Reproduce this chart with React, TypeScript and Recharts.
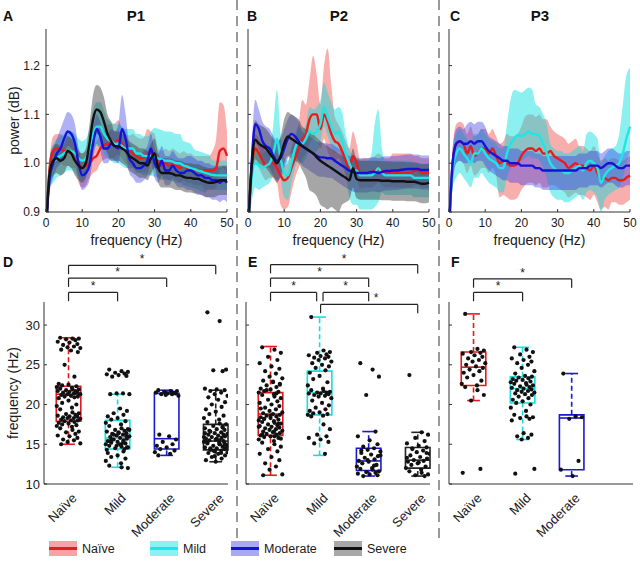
import {
  Area,
  ComposedChart,
  Line,
  ReferenceArea,
  ReferenceDot,
  ReferenceLine,
  Scatter,
  XAxis,
  YAxis,
} from "recharts";

// ---------- data ----------
const HZ = Array.from({ length: 51 }, (_, i) => i);
const FREQ_TICKS = [0, 10, 20, 30, 40, 50];
const POWER_TICKS = [0.9, 1.0, 1.1, 1.2];
const BOX_TICKS = [10, 15, 20, 25, 30];
const GROUPS = ["Naïve", "Mild", "Moderate", "Severe"];

// mean power per Hz, band widths above / below in hundredths
const P1_NAIVE = [0.86,0.99,1.025,1.03,1.03,1.025,1.025,1.02,1.02,1.0, 0.99,0.995,1.0,1.01,1.015,1.03,1.037,1.04,1.04,1.042, 1.048,1.04,1.03,1.027,1.02,1.014,1.01,1.012,1.02,1.015, 1.02,1.0,0.995,1.0,0.995,1.0,0.995,0.99,0.995,0.99, 0.99,0.985,0.985,0.985,0.985,0.985,0.985,0.99,1.025,1.03,1.015];
const P1_NAIVE_UP = [0,2,3,3,3,3,3,3,3,3, 3,3,3,3,3,3,3,4,4,4, 4,3,3,3,4,4,4,4,5,5, 4,3,3,3,3,3,3,3,3,3, 3,3,3,3,3,3,4,6,10,9,5];
const P1_NAIVE_DN = [0,2,3,3,3,3,3,3,3,4, 4,4,3,3,3,3,3,3,3,3, 3,3,3,3,3,3,3,3,4,4, 3,3,3,3,3,3,3,3,3,3, 3,3,3,3,4,4,4,4,4,4,4];
const P1_MILD = [0.86,0.98,1.0,1.01,1.015,1.02,1.025,1.025,1.02,1.01, 1.005,1.01,1.03,1.06,1.075,1.075,1.06,1.05,1.045,1.04, 1.04,1.035,1.03,1.03,1.03,1.02,1.02,1.015,1.015,1.015, 1.012,1.01,1.008,1.005,1.005,1.003,1.0,1.0,0.995,0.993, 0.99,0.988,0.985,0.983,0.98,0.978,0.976,0.975,0.975,0.975,0.975];
const P1_MILD_UP = [0,3,4,4,4,4,4,4,4,4, 4,4,4,5,5,5,5,4,4,4, 4,4,4,4,4,4,4,4,4,5, 6,6,6,6,6,6,6,6,5,5, 5,4,4,4,4,4,3,3,3,3,3];
const P1_MILD_DN = [0,3,4,4,4,4,4,4,4,4, 4,4,4,4,4,4,4,4,4,4, 4,4,4,4,4,4,4,4,4,4, 4,4,4,4,4,4,4,4,4,4, 4,4,4,4,4,3,3,3,3,3,3];
const P1_MOD = [0.86,0.97,1.0,1.02,1.03,1.05,1.065,1.06,1.04,1.0, 0.975,0.98,0.995,1.04,1.07,1.055,1.03,1.03,1.04,1.035, 1.03,1.07,1.05,1.01,1.0,0.99,0.99,0.995,1.005,1.03, 1.0,0.99,1.005,0.985,0.985,0.995,0.985,0.98,0.98,0.985, 0.985,0.98,0.975,0.975,0.97,0.97,0.965,0.965,0.96,0.965,0.96];
const P1_MOD_UP = [0,3,3,3,4,4,4,4,4,3, 3,3,3,3,3,3,3,3,3,3, 5,7,5,3,3,3,3,3,3,3, 3,3,3,3,3,3,3,3,3,3, 3,3,3,3,3,3,3,3,3,3,3];
const P1_MOD_DN = [0,3,3,3,3,3,3,3,3,3, 3,3,3,3,3,3,3,3,3,3, 3,3,3,3,3,3,3,3,3,3, 3,3,3,3,3,3,3,3,3,4, 4,4,4,4,4,4,4,4,4,4,4];
const P1_SEV = [0.86,0.98,1.005,1.01,1.005,1.01,1.025,1.02,1.005,0.995, 0.99,1.0,1.04,1.09,1.11,1.105,1.085,1.06,1.045,1.035, 1.035,1.03,1.025,1.015,1.01,1.005,1.0,1.0,0.995,1.01, 1.02,0.99,0.98,0.98,0.98,0.978,0.975,0.975,0.972,0.97, 0.97,0.968,0.968,0.965,0.962,0.96,0.96,0.962,0.965,0.965,0.965];
const P1_SEV_UP = [0,3,3,3,3,3,3,3,3,3, 3,3,4,5,5,5,5,4,4,3, 3,3,3,3,3,3,3,3,3,3, 3,3,3,3,3,3,3,3,3,3, 3,3,3,3,3,3,3,3,3,3,3];
const P1_SEV_DN = [0,3,3,3,3,3,3,3,3,3, 3,3,4,5,5,5,5,4,4,3, 3,3,3,3,3,3,3,3,3,3, 3,3,3,3,3,3,3,3,3,3, 3,3,3,3,3,3,3,3,3,3,3];

const P2_NAIVE = [0.86,0.99,1.03,1.02,1.005,0.995,1.0,1.0,0.99,0.975, 0.965,0.97,0.99,1.01,1.03,1.05,1.06,1.09,1.1,1.1, 1.07,1.1,1.085,1.06,1.045,1.04,1.025,1.005,0.99,1.015, 1.0,0.978,0.98,0.98,0.98,0.985,0.99,0.985,0.98,0.98, 0.98,0.98,0.98,0.98,0.98,0.98,0.985,0.985,0.98,0.98,0.98];
const P2_NAIVE_UP = [0,2,3,3,3,3,3,3,3,3, 3,3,4,4,5,8,6,8,12,8, 5,10,15,10,5,4,4,4,4,5, 4,3,3,3,3,3,3,3,3,3, 4,4,4,4,4,4,3,3,3,3,3];
const P2_NAIVE_DN = [0,2,3,3,3,3,3,3,3,6, 6,6,5,4,4,4,4,5,5,5, 4,5,6,5,4,3,3,3,3,3, 3,3,3,3,3,3,3,3,3,3, 3,3,3,3,3,3,3,3,3,3,3];
const P2_MILD = [0.86,0.97,1.0,0.995,0.99,0.995,1.0,1.02,1.05,1.01, 0.98,0.975,1.0,1.03,1.045,1.04,1.05,1.065,1.06,1.065, 1.08,1.115,1.095,1.075,1.06,1.065,1.045,1.02,1.0,0.985, 0.985,0.975,0.975,0.975,0.975,0.98,0.99,0.98,0.975,0.975, 0.975,0.975,0.975,0.975,0.975,0.975,0.97,0.97,0.97,0.97,0.97];
const P2_MILD_UP = [0,3,3,3,3,3,3,6,10,5, 3,3,3,3,3,3,3,5,5,5, 5,5,5,5,5,5,6,4,3,3, 3,3,3,3,4,10,12,5,3,3, 3,3,3,3,3,3,3,3,3,3,3];
const P2_MILD_DN = [0,5,5,5,4,4,4,4,4,4, 5,5,4,4,4,4,4,4,4,4, 4,4,4,4,4,4,4,4,7,7, 7,7,7,7,7,7,7,4,4,4, 4,4,4,4,4,4,4,4,4,4,4];
const P2_MOD = [0.86,1.0,1.08,1.07,1.045,1.035,1.03,1.015,1.005,1.01, 1.03,1.05,1.06,1.055,1.045,1.035,1.03,1.025,1.02,1.015, 1.012,1.012,1.01,1.01,1.005,1.0,0.995,0.99,0.985,0.982, 0.98,0.98,0.98,0.98,0.982,0.982,0.98,0.982,0.984,0.984, 0.985,0.985,0.986,0.987,0.988,0.988,0.988,0.988,0.986,0.986,0.986];
const P2_MOD_UP = [0,3,5,4,4,4,4,4,4,4, 4,4,4,4,4,3,3,3,3,3, 3,3,3,3,3,3,3,3,3,3, 3,3,3,3,3,3,3,3,3,3, 3,3,3,3,3,3,3,3,3,3,3];
const P2_MOD_DN = [0,4,4,4,4,4,4,4,4,4, 4,4,4,4,4,4,4,4,4,4, 4,4,4,4,4,4,4,4,4,4, 4,4,4,4,4,4,4,4,4,4, 4,4,4,4,4,4,4,4,4,4,4];
const P2_SEV = [0.86,0.99,1.048,1.04,1.035,1.03,1.02,1.01,1.0,1.015, 1.04,1.055,1.05,1.045,1.04,1.035,1.03,1.025,1.02,1.012, 1.005,1.0,0.995,0.99,0.985,0.98,0.975,0.97,0.965,0.99, 0.968,0.965,0.965,0.965,0.965,0.965,0.965,0.964,0.964,0.964, 0.963,0.963,0.963,0.963,0.962,0.962,0.962,0.96,0.958,0.958,0.96];
const P2_SEV_UP = [0,3,4,4,4,4,4,4,4,4, 5,5,5,5,5,4,4,4,4,4, 4,4,4,4,4,4,4,4,4,4, 4,4,4,4,4,4,4,4,4,4, 4,4,4,4,4,4,4,4,4,4,4];
const P2_SEV_DN = [0,3,4,4,4,4,4,4,4,4, 4,4,4,4,4,5,6,8,8,8, 9,9,9,8,8,8,6,5,4,4, 4,4,4,4,4,4,4,4,4,4, 4,4,4,4,4,4,4,4,4,4,4];

const P3_NAIVE = [0.86,1.0,1.04,1.045,1.04,1.02,1.035,1.015,1.02,1.03, 1.03,1.02,1.03,1.015,1.0,1.005,1.0,0.995,0.995,1.0, 1.015,1.025,1.03,1.03,1.025,1.03,1.02,1.02,1.025,1.015, 1.01,1.005,1.0,0.99,0.995,1.0,0.995,0.995,0.99,0.985, 0.995,0.98,0.965,0.97,0.965,0.97,0.97,0.965,0.965,0.97,0.975];
const P3_NAIVE_UP = [0,3,4,4,4,4,4,4,4,4, 4,4,4,4,4,4,6,6,6,6, 6,7,7,7,7,7,7,7,5,5, 5,5,5,5,5,5,4,4,4,4, 4,4,4,4,4,4,4,4,4,4,4];
const P3_NAIVE_DN = [0,3,4,4,4,4,4,4,4,4, 4,4,4,4,7,7,7,7,7,7, 7,7,7,7,7,7,7,7,7,6, 6,6,6,6,6,6,6,6,6,6, 6,6,6,6,6,5,5,5,5,5,5];
const P3_MILD = [0.86,0.99,1.02,1.03,1.02,1.01,1.0,1.02,1.02,1.03, 1.02,1.01,1.005,1.0,0.99,0.99,1.02,1.04,1.05,1.058, 1.055,1.06,1.065,1.06,1.06,1.055,1.04,1.02,1.0,0.99, 0.985,0.985,0.98,0.98,0.985,0.99,0.995,0.985,1.0,1.005, 1.0,0.99,0.96,0.975,0.985,0.99,0.995,1.0,1.02,1.05,1.075];
const P3_MILD_UP = [0,3,4,4,4,4,4,4,4,4, 4,4,4,4,4,4,6,9,10,9, 9,9,9,9,6,6,6,6,4,4, 4,4,4,4,4,4,4,4,6,6, 6,6,4,4,4,4,4,6,10,13,12];
const P3_MILD_DN = [0,4,5,5,5,5,5,5,5,5, 5,5,5,5,5,5,5,5,5,5, 5,5,5,5,5,5,5,5,6,6, 6,6,6,6,6,6,6,6,6,6, 6,6,6,5,5,5,5,5,5,5,5];
const P3_MOD = [0.86,1.0,1.04,1.045,1.04,1.04,1.045,1.04,1.045,1.045, 1.035,1.025,1.02,1.015,1.01,1.005,1.005,1.0,1.0,1.0, 0.995,0.995,0.995,0.995,0.99,0.99,0.985,0.985,0.985,0.985, 0.985,0.985,0.985,0.985,0.985,0.985,0.99,0.99,0.99,0.995, 0.995,0.995,0.99,0.995,1.0,1.0,0.995,0.99,0.99,0.995,0.995];
const P3_MOD_UP = [0,3,3,3,3,4,4,4,4,4, 4,3,3,3,3,3,3,3,3,3, 3,3,3,3,3,3,3,3,3,3, 3,3,3,3,3,3,3,3,3,3, 3,3,3,3,3,3,3,3,3,3,3];
const P3_MOD_DN = [0,4,4,4,4,4,4,4,4,4, 4,4,4,4,4,4,4,4,4,4, 4,4,4,4,4,4,4,4,4,4, 4,4,4,4,4,4,4,4,4,4, 4,4,4,4,4,4,4,4,4,4,4];

// box stats: [lower whisker, q1, median, q3, upper whisker] (Hz)
const D_STATS = [[15.0, 17.9, 21.3, 22.3, 28.4], [12.1, 14.4, 15.8, 18.0, 21.3], [13.6, 14.4, 15.7, 21.4, 21.8], [12.8, 14.3, 15.4, 17.5, 21.8]];
const E_STATS = [[11.1, 16.1, 18.8, 21.5, 27.3], [13.6, 18.7, 21.5, 24.2, 31.0], [11.0, 11.7, 12.9, 14.5, 16.6], [11.0, 12.0, 13.0, 14.6, 16.5]];
const F_STATS = [[20.5, 22.4, 24.7, 26.6, 31.4], [15.6, 20.2, 22.0, 23.5, 27.2], [11.0, 11.8, 18.3, 18.7, 23.9]];

// individual peak frequencies (Hz)
const D_NAIVE = [28.4,28.3,28.3,28.2,28.1,27.9,27.8,27.6,27.5,27.3,27.2,27.1,26.9,26.8,26.6,25.0,23.5,22.6,22.5,22.4,22.3,22.2,22.1,22.0,21.9,21.9,21.8,21.7,21.7,21.6,21.5,21.5,21.4,21.3,21.3,21.2,21.1,21.0,21.0,20.9,20.8,20.5,20.2,20.0,19.8,19.6,19.4,19.0,18.9,18.8,18.7,18.6,18.5,18.5,18.4,18.3,18.3,18.2,18.1,18.0,18.0,17.9,17.8,17.7,17.6,17.5,17.4,17.3,17.2,17.0,16.8,16.6,16.5,16.3,16.1,16.0,15.8,15.6,15.5,15.3,15.1,15.0];
const D_MILD = [24.4,24.2,24.1,24.0,23.9,23.8,23.7,23.6,23.5,21.4,21.4,21.3,21.3,19.5,19.2,18.9,18.7,18.5,18.3,18.1,17.9,17.7,17.5,17.3,17.0,16.9,16.8,16.7,16.6,16.5,16.4,16.3,16.2,16.1,16.0,15.9,15.8,15.7,15.6,15.5,15.4,15.3,15.2,15.1,15.0,14.9,14.8,14.7,14.6,14.5,14.4,14.3,16.4,16.0,15.6,15.2,14.8,16.8,15.4,15.0,14.6,16.2,14.1,13.9,13.6,13.4,13.2,12.9,12.6,12.3,12.1,12.0];
const D_MOD = [21.8,21.7,21.7,21.6,21.5,21.5,21.4,21.4,21.3,21.3,21.2,21.1,16.2,16.0,15.6,15.3,15.0,14.8,14.6,14.4,14.2,14.0,13.8,13.6];
const D_SEV = [31.6,30.5,24.4,24.3,24.2,22.0,21.9,21.8,21.7,21.5,21.3,21.1,20.9,20.6,20.3,20.0,19.7,19.4,19.1,18.8,18.6,18.3,18.1,17.8,17.6,17.5,17.3,17.2,17.0,16.9,16.8,16.6,16.5,16.4,16.3,16.2,16.1,16.0,15.9,15.8,15.7,15.6,15.5,15.4,15.3,15.2,15.1,15.0,14.9,14.8,14.7,14.6,14.5,14.4,14.3,14.2,14.1,14.0,13.9,13.8,13.6,13.4,13.2,13.0,12.8,16.7,16.2,15.9,15.5,15.3,15.0,14.6,14.2,17.1,16.4,15.7,15.1,14.5,13.9,13.5];
const E_NAIVE = [27.2,26.9,26.5,26.0,25.6,25.2,24.8,24.5,24.2,23.9,23.5,23.3,23.0,22.8,22.6,22.4,22.2,22.0,21.9,21.7,21.6,21.5,21.3,21.2,21.0,20.8,20.6,20.4,20.2,20.0,19.8,19.6,19.4,19.2,19.0,18.9,18.8,18.7,18.6,18.5,18.4,18.3,18.2,18.1,18.0,17.9,17.8,17.7,17.6,17.5,17.4,17.3,17.2,17.1,17.0,16.9,16.8,16.7,16.6,16.5,16.4,16.3,16.2,16.1,16.0,15.9,15.8,15.6,15.4,15.2,15.0,14.7,14.4,14.1,13.8,13.4,13.0,12.6,12.2,11.8,11.2,11.1,22.9,22.5,21.8,21.4,19.5,18.6,18.2,17.6,17.2,16.6,16.2,16.0,15.7];
const E_MILD = [31.0,26.8,26.6,26.5,26.3,26.2,26.1,26.0,25.9,25.8,25.6,25.4,25.2,25.0,24.8,24.6,24.3,24.0,23.6,23.2,22.8,22.4,22.0,21.8,21.7,21.6,21.5,21.5,21.4,21.4,21.3,21.2,21.1,21.0,20.8,20.5,20.2,19.9,19.6,19.4,19.2,19.0,18.9,18.8,18.7,18.6,18.5,17.5,16.9,16.2,16.0,15.8,15.6,15.3,15.1,13.8];
const E_MOD = [25.2,24.4,23.5,21.2,16.6,16.0,15.5,15.0,14.7,14.5,14.3,14.1,13.9,13.7,13.5,13.3,13.1,12.9,12.8,12.6,12.4,12.2,12.0,11.9,11.8,11.6,11.5,11.4,11.3,11.2,11.1,11.0,12.3,13.0,13.6,14.2];
const E_SEV = [23.7,16.5,16.2,15.8,15.4,15.1,14.8,14.6,14.4,14.2,14.0,13.8,13.6,13.4,13.2,13.0,12.9,12.8,12.6,12.4,12.2,12.0,11.8,11.6,11.4,11.2,11.1,11.0,13.3,12.7,13.9,14.5];
const F_NAIVE = [31.4,27.0,26.8,26.6,26.5,26.4,26.2,26.0,25.8,25.6,25.4,25.2,25.0,24.8,24.6,24.4,24.2,24.0,23.7,23.4,23.0,22.6,22.4,22.2,21.8,21.2,20.5,11.9,11.4];
const F_MILD = [27.2,26.9,26.6,26.3,26.0,25.8,25.6,25.4,25.2,25.0,24.6,24.2,23.9,23.6,23.5,23.4,23.3,23.2,23.1,23.0,22.9,22.8,22.7,22.6,22.5,22.4,22.3,22.2,22.1,22.0,21.9,21.8,21.7,21.6,21.5,21.4,21.3,21.2,21.0,20.8,20.6,20.4,20.2,20.0,19.6,19.2,18.7,18.5,18.4,18.3,18.2,18.0,16.4,16.2,16.0,15.8,15.6,11.9,11.3];
const F_MOD = [23.9,18.5,18.4,18.2,12.9,11.8,11.0];

// significance brackets: [group a, group b, level in Hz, star x]
const D_SIG = [[1, 2, 34.1, 1.5], [1, 3, 35.9, 2], [1, 4, 37.5, 2.5]];
const E_SIG = [[1, 1.94, 34.1, 1.47], [2.07, 3, 34.1, 2.53], [1, 3, 35.9, 2], [1, 4, 37.6, 2.5], [2.02, 4, 32.6, 3.15]];
const F_SIG = [[1, 2, 34.1, 1.5], [1, 3, 35.8, 2]];

// ---------- styles ----------
const FONT = "'Liberation Sans', Arial, sans-serif";
const AXIS = "#333";
const TXT = "#1a1a1a";
const LINE = ["#ea1b1b", "#1fe6e6", "#1313d8", "#111111"];
const BAND = ["#ee2a2a", "#00dede", "#3030e6", "#444444"];
const BAND_OP = [0.38, 0.45, 0.38, 0.48];
const BOX = ["#e3171d", "#19dcdc", "#1a1acc", "#222222"];
const PATCH = ["#f6a3a3", "#8af2f2", "#a9a9f5", "#a8a8a8"];
const JITTER = [-0.17, 0.08, 0.21, -0.05, 0.14, -0.22, 0.02, 0.18, -0.11, 0.11, -0.02, 0.24, -0.15, 0.05, 0.19, -0.08, 0.12, -0.2, 0.0, -0.13, 0.16, -0.24, 0.07];

type Spec = { mean: number[]; up: number[]; dn: number[] };

function SpectrumPanel({ left, specs, labels }: { left: number; specs: Spec[]; labels: boolean }) {
  const data = HZ.map((hz, i) => {
    const row: Record<string, any> = { hz };
    specs.forEach((s, k) => {
      row[`m${k}`] = s.mean[i];
      row[`b${k}`] = [s.mean[i] - s.dn[i] / 100, s.mean[i] + s.up[i] / 100];
    });
    return row;
  });
  return (
    <div style={{ position: "absolute", left: left - 45, top: 0 }}>
      <ComposedChart width={238} height={250} data={data} margin={{ top: 29, right: 12, bottom: 0, left: 0 }}>
        <XAxis
          dataKey="hz"
          type="number"
          domain={[0, 50]}
          ticks={FREQ_TICKS}
          interval={0}
          height={38}
          tickSize={-3}
          tickMargin={9}
          stroke={AXIS}
          tick={{ fontSize: 12, fill: TXT }}
          label={{ value: "frequency (Hz)", position: "insideBottom", offset: 5, fontSize: 14, fill: TXT }}
        />
        <YAxis
          type="number"
          domain={[0.9, 1.275]}
          allowDataOverflow
          ticks={POWER_TICKS}
          interval={0}
          width={45}
          tickSize={-3}
          tickMargin={9}
          stroke={AXIS}
          tick={{ fontSize: 12, fill: TXT }}
          tickFormatter={(v: number) => (labels ? v.toFixed(1) : "")}
          label={
            labels
              ? { value: "power (dB)", angle: -90, position: "insideLeft", offset: 13, fontSize: 14, fill: TXT, style: { textAnchor: "middle" } }
              : undefined
          }
        />
        {specs.map((_, k) => (
          <Area
            key={`b${k}`}
            type="monotone"
            dataKey={`b${k}`}
            stroke="none"
            fill={BAND[k]}
            fillOpacity={BAND_OP[k]}
            isAnimationActive={false}
          />
        ))}
        {specs.map((_, k) => (
          <Line
            key={`m${k}`}
            type="monotone"
            dataKey={`m${k}`}
            stroke={LINE[k]}
            strokeWidth={2.4}
            dot={false}
            isAnimationActive={false}
          />
        ))}
      </ComposedChart>
    </div>
  );
}

function CatTick({ x, y, payload }: any) {
  const tx = x + 9;
  const ty = y + 15;
  return (
    <text x={tx} y={ty} transform={`rotate(-45 ${tx} ${ty})`} textAnchor="end" fontSize={13} fill={TXT}>
      {GROUPS[payload.value - 1]}
    </text>
  );
}

function BoxPanel({ left, stats, points, sig, labels }: { left: number; stats: number[][]; points: number[][]; sig: number[][]; labels: boolean }) {
  const pts = points.flatMap((vals, g) => vals.map((v, i) => ({ x: g + 1 + JITTER[i % JITTER.length], y: v })));
  const ticks = stats.map((_, g) => g + 1);
  return (
    <div style={{ position: "absolute", left: left - 44, top: 250 }}>
      <ComposedChart width={238} height={289} margin={{ top: 52, right: 10, bottom: 0, left: 0 }}>
        <XAxis
          dataKey="x"
          type="number"
          domain={[0.5, 4.25]}
          allowDataOverflow
          ticks={ticks}
          interval={0}
          height={55}
          tickLine={false}
          tickSize={0}
          tickMargin={0}
          stroke={AXIS}
          tick={(p: any) => <CatTick {...p} />}
        />
        <YAxis
          dataKey="y"
          type="number"
          domain={[10, 32.9]}
          allowDataOverflow
          ticks={BOX_TICKS}
          interval={0}
          width={44}
          tickSize={-3}
          tickMargin={7}
          stroke={AXIS}
          tick={{ fontSize: 13, fill: TXT }}
          tickFormatter={(v: number) => (labels ? String(v) : "")}
          label={
            labels
              ? { value: "frequency (Hz)", angle: -90, position: "insideLeft", offset: 13, fontSize: 14, fill: TXT, style: { textAnchor: "middle" } }
              : undefined
          }
        />
        {stats.map(([lo, q1, med, q3, hi], g) => {
          const c = g + 1;
          const col = BOX[g];
          return [
            <ReferenceArea key={`box${g}`} x1={c - 0.25} x2={c + 0.25} y1={q1} y2={q3} fill="none" fillOpacity={0} stroke={col} strokeWidth={1.6} ifOverflow="visible" />,
            <ReferenceLine key={`med${g}`} segment={[{ x: c - 0.25, y: med }, { x: c + 0.25, y: med }]} stroke={col} strokeWidth={1.6} ifOverflow="visible" />,
            <ReferenceLine key={`wh${g}`} segment={[{ x: c, y: q3 }, { x: c, y: hi }]} stroke={col} strokeWidth={1.6} strokeDasharray="5 3" ifOverflow="visible" />,
            <ReferenceLine key={`wl${g}`} segment={[{ x: c, y: lo }, { x: c, y: q1 }]} stroke={col} strokeWidth={1.6} strokeDasharray="5 3" ifOverflow="visible" />,
            <ReferenceLine key={`ch${g}`} segment={[{ x: c - 0.13, y: hi }, { x: c + 0.13, y: hi }]} stroke={col} strokeWidth={1.6} ifOverflow="visible" />,
            <ReferenceLine key={`cl${g}`} segment={[{ x: c - 0.13, y: lo }, { x: c + 0.13, y: lo }]} stroke={col} strokeWidth={1.6} ifOverflow="visible" />,
          ];
        })}
        {sig.map(([a, b, lvl, sx], i) => [
          <ReferenceLine key={`sh${i}`} segment={[{ x: a, y: lvl }, { x: b, y: lvl }]} stroke="#222" strokeWidth={1.2} ifOverflow="visible" />,
          <ReferenceLine key={`sa${i}`} segment={[{ x: a, y: lvl }, { x: a, y: lvl - 1.1 }]} stroke="#222" strokeWidth={1.2} ifOverflow="visible" />,
          <ReferenceLine key={`sb${i}`} segment={[{ x: b, y: lvl }, { x: b, y: lvl - 1.1 }]} stroke="#222" strokeWidth={1.2} ifOverflow="visible" />,
          <ReferenceDot key={`st${i}`} x={sx} y={lvl} r={0} stroke="none" fill="none" ifOverflow="visible" label={{ value: "*", position: "top", offset: 2, fontSize: 12, fill: TXT }} />,
        ])}
        <Scatter
          data={pts}
          isAnimationActive={false}
          shape={(p: any) => <circle cx={p.cx} cy={p.cy} r={2.1} fill="#111" />}
        />
      </ComposedChart>
    </div>
  );
}

const LEGEND_X = [49, 150, 231, 334];

export default function App() {
  return (
    <div style={{ position: "absolute", left: 0, top: 0, width: 640, height: 567, background: "#fff", fontFamily: FONT }}>
      <SpectrumPanel
        left={46}
        labels
        specs={[
          { mean: P1_NAIVE, up: P1_NAIVE_UP, dn: P1_NAIVE_DN },
          { mean: P1_MILD, up: P1_MILD_UP, dn: P1_MILD_DN },
          { mean: P1_MOD, up: P1_MOD_UP, dn: P1_MOD_DN },
          { mean: P1_SEV, up: P1_SEV_UP, dn: P1_SEV_DN },
        ]}
      />
      <SpectrumPanel
        left={248}
        labels={false}
        specs={[
          { mean: P2_NAIVE, up: P2_NAIVE_UP, dn: P2_NAIVE_DN },
          { mean: P2_MILD, up: P2_MILD_UP, dn: P2_MILD_DN },
          { mean: P2_MOD, up: P2_MOD_UP, dn: P2_MOD_DN },
          { mean: P2_SEV, up: P2_SEV_UP, dn: P2_SEV_DN },
        ]}
      />
      <SpectrumPanel
        left={449}
        labels={false}
        specs={[
          { mean: P3_NAIVE, up: P3_NAIVE_UP, dn: P3_NAIVE_DN },
          { mean: P3_MILD, up: P3_MILD_UP, dn: P3_MILD_DN },
          { mean: P3_MOD, up: P3_MOD_UP, dn: P3_MOD_DN },
        ]}
      />
      <BoxPanel left={44} labels stats={D_STATS} points={[D_NAIVE, D_MILD, D_MOD, D_SEV]} sig={D_SIG} />
      <BoxPanel left={246} labels={false} stats={E_STATS} points={[E_NAIVE, E_MILD, E_MOD, E_SEV]} sig={E_SIG} />
      <BoxPanel left={449} labels={false} stats={F_STATS} points={[F_NAIVE, F_MILD, F_MOD]} sig={F_SIG} />

      <svg width={640} height={567} style={{ position: "absolute", left: 0, top: 0, pointerEvents: "none" }}>
        <line x1={237} y1={0} x2={237} y2={540} stroke="#999" strokeWidth={2} strokeDasharray="10 6" />
        <line x1={439} y1={0} x2={439} y2={540} stroke="#999" strokeWidth={2} strokeDasharray="10 6" />
        <g fontWeight="bold" fill="#111">
          <text x={3} y={21} fontSize={14}>A</text>
          <text x={247} y={21} fontSize={14}>B</text>
          <text x={450} y={21} fontSize={14}>C</text>
          <text x={136} y={21} fontSize={15} textAnchor="middle">P1</text>
          <text x={339} y={21} fontSize={15} textAnchor="middle">P2</text>
          <text x={540} y={21} fontSize={15} textAnchor="middle">P3</text>
          <text x={3} y={267} fontSize={14}>D</text>
          <text x={248} y={267} fontSize={14}>E</text>
          <text x={451} y={267} fontSize={14}>F</text>
        </g>
        {GROUPS.map((g, i) => (
          <g key={g}>
            <rect x={LEGEND_X[i]} y={541} width={28} height={15} fill={PATCH[i]} />
            <line x1={LEGEND_X[i]} y1={548.5} x2={LEGEND_X[i] + 28} y2={548.5} stroke={LINE[i]} strokeWidth={3} />
            <text x={LEGEND_X[i] + 33} y={553} fontSize={12.5} fill={TXT}>{g}</text>
          </g>
        ))}
      </svg>
    </div>
  );
}
